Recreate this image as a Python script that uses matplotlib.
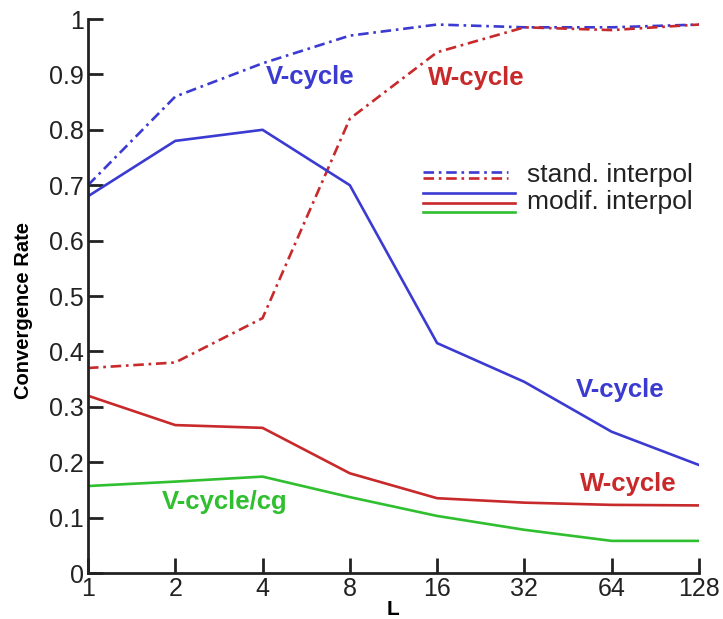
import matplotlib
matplotlib.use('Agg')
import matplotlib.pyplot as plt

plt.rcParams['font.family'] = ['Liberation Sans', 'DejaVu Sans']

# Grid sizes (number of levels)
L = [1, 2, 4, 8, 16, 32, 64, 128]

# Convergence rates, standard interpolation
v_stand = [0.70, 0.86, 0.92, 0.97, 0.99, 0.985, 0.985, 0.99]
w_stand = [0.37, 0.38, 0.46, 0.82, 0.94, 0.985, 0.98, 0.99]

# Convergence rates, modified interpolation
v_modif = [0.68, 0.78, 0.80, 0.70, 0.415, 0.345, 0.255, 0.195]
w_modif = [0.32, 0.267, 0.262, 0.18, 0.135, 0.127, 0.123, 0.122]
vcg_modif = [0.157, 0.165, 0.174, 0.137, 0.103, 0.078, 0.058, 0.058]

xticks = [1, 2, 4, 8, 16, 32, 64, 128]
yticks = [0, 0.1, 0.2, 0.3, 0.4, 0.5, 0.6, 0.7, 0.8, 0.9, 1]
ytick_labels = ['0', '0.1', '0.2', '0.3', '0.4', '0.5', '0.6', '0.7', '0.8', '0.9', '1']

BLUE = '#3b3bd2'
RED = '#c8292b'
GREEN = '#2fbf2f'
DARK = '#222222'
DASHDOT = (4, 1.8, 1, 1.8)
LW = 1.9

fig = plt.figure(figsize=(7.23, 6.19), dpi=100)
ax = fig.add_axes([0.1217, 0.0743, 0.845, 0.895])

ax.plot(L, v_stand, color=BLUE, lw=LW, dashes=DASHDOT)
ax.plot(L, w_stand, color=RED, lw=LW, dashes=DASHDOT)
ax.plot(L, v_modif, color=BLUE, lw=LW)
ax.plot(L, w_modif, color=RED, lw=LW)
ax.plot(L, vcg_modif, color=GREEN, lw=LW)

ax.set_xscale('log', base=2)
ax.set_xlim(1, 128)
ax.set_ylim(0, 1)
ax.set_xticks(xticks)
ax.set_xticklabels([str(x) for x in xticks])
ax.minorticks_off()
ax.set_yticks(yticks)
ax.set_yticklabels(ytick_labels)

for side in ['top', 'right']:
    ax.spines[side].set_visible(False)
for side in ['left', 'bottom']:
    ax.spines[side].set_linewidth(2)
    ax.spines[side].set_color(DARK)
ax.tick_params(direction='in', length=11, width=2, labelsize=18, colors=DARK, pad=3)
ax.tick_params(axis='y', pad=3)

ax.set_ylabel('Convergence Rate', fontsize=14.5, fontweight='bold')
ax.yaxis.set_label_coords(-0.09, 0.473)
ax.set_xlabel('L', fontsize=15, fontweight='bold')
ax.xaxis.set_label_coords(0.5, -0.049)

# curve labels
lab = dict(fontsize=18.5, fontweight='bold', ha='center', va='center')
ax.text(5.83, 0.895, 'V-cycle', color=BLUE, **lab)
ax.text(21.8, 0.894, 'W-cycle', color=RED, **lab)
ax.text(68.3, 0.330, 'V-cycle', color=BLUE, **lab)
ax.text(72.8, 0.161, 'W-cycle', color=RED, **lab)
ax.text(2.97, 0.128, 'V-cycle/cg', color=GREEN, **lab)

# legend drawn by hand in axes coordinates
x0, x1, x1d = 0.548, 0.699, 0.687
ax.plot([x0, x1d], [0.724, 0.724], transform=ax.transAxes, color=BLUE, lw=LW, dashes=DASHDOT)
ax.plot([x0, x1d], [0.713, 0.713], transform=ax.transAxes, color=RED, lw=LW, dashes=DASHDOT)
ax.plot([x0, x1], [0.686, 0.686], transform=ax.transAxes, color=BLUE, lw=LW)
ax.plot([x0, x1], [0.668, 0.668], transform=ax.transAxes, color=RED, lw=LW)
ax.plot([x0, x1], [0.652, 0.652], transform=ax.transAxes, color=GREEN, lw=LW)
ax.text(0.7185, 0.718, 'stand. interpol', transform=ax.transAxes, fontsize=19,
        color=DARK, va='center')
ax.text(0.7185, 0.670, 'modif. interpol', transform=ax.transAxes, fontsize=19,
        color=DARK, va='center')

fig.savefig('out.png', dpi=100)
